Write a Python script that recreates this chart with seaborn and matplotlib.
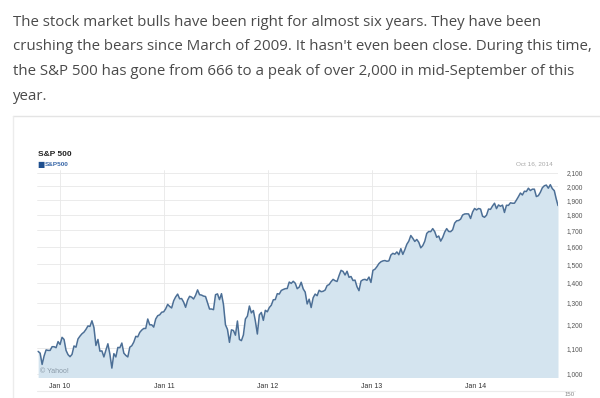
import numpy as np
import pandas as pd
import matplotlib
matplotlib.use("Agg")
import matplotlib.pyplot as plt
import matplotlib.dates as mdates
from matplotlib.ticker import FixedLocator, NullLocator
import seaborn as sns

# weekly closes (Fridays)
sp_2009 = [1087, 1080, 1036, 1069, 1093, 1091, 1091, 1106, 1106, 1102, 1127, 1115]
sp_2010 = [1145, 1136, 1091, 1074, 1066, 1075, 1109, 1104, 1138, 1150, 1160, 1167,
           1179, 1194, 1192, 1217, 1187, 1111, 1136, 1088, 1089, 1065, 1092, 1118,
           1076, 1022, 1078, 1065, 1103, 1102, 1121, 1080, 1071, 1065, 1104, 1110,
           1125, 1149, 1147, 1166, 1176, 1183, 1183, 1225, 1199, 1199, 1189, 1225,
           1240, 1244, 1256, 1258]
sp_2011 = [1272, 1293, 1283, 1276, 1310, 1329, 1343, 1320, 1321, 1304, 1279, 1313,
           1332, 1328, 1319, 1337, 1364, 1340, 1338, 1333, 1331, 1300, 1271, 1271,
           1268, 1340, 1344, 1316, 1345, 1292, 1199, 1179, 1124, 1177, 1174, 1154,
           1216, 1136, 1131, 1155, 1225, 1238, 1285, 1253, 1264, 1216, 1159, 1244,
           1255, 1219, 1265, 1258]
sp_2012 = [1278, 1289, 1315, 1316, 1345, 1343, 1361, 1366, 1370, 1371, 1404, 1397,
           1408, 1398, 1370, 1378, 1403, 1369, 1353, 1295, 1318, 1278, 1325, 1343,
           1335, 1362, 1355, 1357, 1363, 1386, 1391, 1406, 1418, 1411, 1407, 1438,
           1466, 1460, 1441, 1461, 1429, 1433, 1412, 1414, 1380, 1360, 1409, 1416,
           1418, 1413, 1430, 1402]
sp_2013 = [1466, 1472, 1486, 1503, 1513, 1518, 1520, 1516, 1518, 1551, 1561, 1556,
           1569, 1553, 1588, 1555, 1582, 1614, 1633, 1667, 1650, 1631, 1643, 1626,
           1593, 1606, 1632, 1680, 1692, 1691, 1710, 1691, 1656, 1664, 1633, 1655,
           1688, 1710, 1692, 1691, 1703, 1745, 1760, 1762, 1771, 1798, 1805, 1806,
           1805, 1775, 1818, 1842]
sp_2014 = [1832, 1842, 1838, 1790, 1783, 1797, 1838, 1836, 1859, 1878, 1841, 1866,
           1857, 1865, 1815, 1864, 1863, 1881, 1878, 1878, 1900, 1924, 1950, 1936,
           1963, 1961, 1985, 1968, 1978, 1978, 1925, 1931, 1955, 1988, 2003, 2008,
           1985, 2011, 1982, 1967, 1906]
last_date = "2014-10-16"
last_close = 1862

y_ticks = [1000, 1100, 1200, 1300, 1400, 1500, 1600, 1700, 1800, 1900, 2000, 2100]
x_tick_dates = ["2010-01-01", "2011-01-01", "2012-01-01", "2013-01-01", "2014-01-01"]
x_tick_labels = ["Jan 10", "Jan 11", "Jan 12", "Jan 13", "Jan 14"]

values = sp_2009 + sp_2010 + sp_2011 + sp_2012 + sp_2013 + sp_2014
dates = list(pd.date_range("2009-10-16", periods=len(values), freq="W-FRI"))
df = pd.DataFrame({"date": dates + [pd.Timestamp(last_date)],
                   "close": values + [last_close]})

sns.set_style("white")
plt.rcParams["font.family"] = ["Open Sans", "DejaVu Sans"]

W, H = 600, 398
fig = plt.figure(figsize=(6, 3.98), dpi=100)

# article paragraph
para = ["The stock market bulls have been right for almost six years. They have been",
        "crushing the bears since March of 2009. It hasn't even been close. During this time,",
        "the S&P 500 has gone from 666 to a peak of over 2,000 in mid-September of this",
        "year."]
for i, line in enumerate(para):
    fig.text(13 / W, 1 - (22 + 24.7 * i) / H, line, fontsize=10.85, color="#4a4a4a",
             va="center", ha="left")

# widget frame
fig.add_artist(plt.Line2D([13 / W, 1], [1 - 116 / H] * 2, color="#e4e4e4", lw=1))
fig.add_artist(plt.Line2D([13 / W, 13 / W], [1 - 116 / H, 0], color="#ececec", lw=1))
fig.add_artist(plt.Line2D([37 / W, 575 / W], [1 - 391 / H] * 2, color="#ececec", lw=0.8))

ax = fig.add_axes([37 / W, 1 - 377 / H, (558 - 37) / W, (377 - 170) / H])
ax.set_yscale("log")

ax.fill_between(df["date"], df["close"], 900, color="#d4e4ef", lw=0, zorder=1)
sns.lineplot(data=df, x="date", y="close", ax=ax, color="#4c6f96", lw=1.1, zorder=3)

ax.set_ylim(989, 2123)
ax.set_xlim(pd.Timestamp("2009-10-12"), pd.Timestamp(last_date))
ax.yaxis.set_major_locator(FixedLocator(y_ticks))
ax.yaxis.set_minor_locator(NullLocator())
ax.set_yticklabels([f"{v:,}" for v in y_ticks])
ax.yaxis.tick_right()
ax.tick_params(axis="y", length=0, pad=6, labelsize=4.8, labelcolor="#555555")
ax.set_xticks(pd.to_datetime(x_tick_dates))
ax.set_xticklabels(x_tick_labels)
ax.tick_params(axis="x", length=0, pad=4, labelsize=5, labelcolor="#333333")
for lab in ax.get_xticklabels() + ax.get_yticklabels():
    lab.set_family(["Liberation Sans", "DejaVu Sans"])
ax.grid(True, color="#e8e8e8", lw=0.6, zorder=0)
ax.set_axisbelow(True)
for s in ax.spines.values():
    s.set_visible(False)
ax.set_xlabel("")
ax.set_ylabel("")

ax.text(0.006, 0.02, "\u00a9 Yahoo!", transform=ax.transAxes, fontsize=5,
        color="#8a9aa8", family=["Liberation Sans", "DejaVu Sans"], zorder=4)

# chart header
fig.text(38 / W, 1 - 154 / H, "S&P 500", fontsize=6, fontweight="bold", color="#222222",
         va="center", family=["Liberation Sans", "DejaVu Sans"])
fig.text(37 / W, 1 - 164 / H, "\u25a0", fontsize=5.5, color="#1f4f8f", va="center",
         family=["DejaVu Sans"])
fig.text(44.5 / W, 1 - 164 / H, "S&P500", fontsize=4.6, color="#3a68a8", va="center",
         fontweight="bold", family=["Liberation Sans", "DejaVu Sans"])
fig.text(553 / W, 1 - 164 / H, "Oct 16, 2014", fontsize=4.6, color="#a8a8a8",
         va="center", ha="right", family=["Liberation Sans", "DejaVu Sans"])
fig.text(565 / W, 1 - 394 / H, "150", fontsize=4.4, color="#888888", va="center",
         family=["Liberation Sans", "DejaVu Sans"])

fig.savefig("out.png", dpi=100)
